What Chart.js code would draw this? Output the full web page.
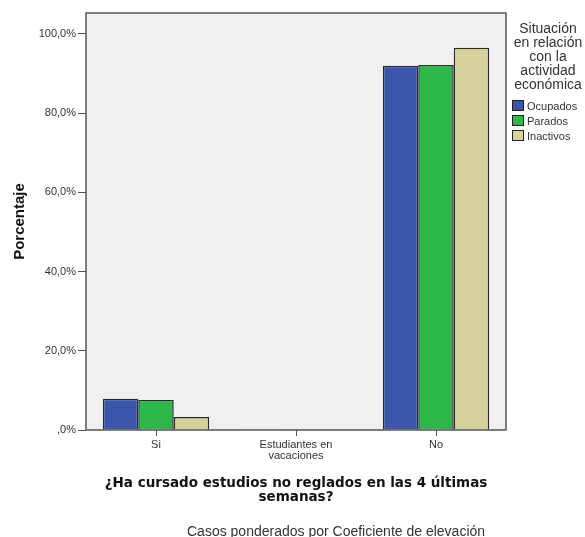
<!DOCTYPE html>
<html>
<head>
<meta charset="utf-8">
<script src="https://cdn.jsdelivr.net/npm/chart.js@4"></script>
<style>
  body { margin: 0; background: #fff; }
  #wrap { position: relative; width: 585px; height: 537px; overflow: hidden; }
  #legend { position: absolute; left: 508px; top: 21px; width: 80px; font-family: 'Liberation Sans', Arial, sans-serif; color: #333; }
  #legend .ltitle { text-align: center; font-size: 14px; line-height: 14px; }
  #legend .items { margin-top: 8px; }
  #legend .item { height: 15px; line-height: 15px; font-size: 11px; white-space: nowrap; }
  #legend .box { display: inline-block; width: 10px; height: 9px; border: 1px solid #222; margin-left: 4px; margin-right: 3px; vertical-align: -1px; }
  #footnote { position: absolute; left: 187px; top: 523px; font-family: 'Liberation Sans', Arial, sans-serif; font-size: 14px; line-height: 16px; color: #333; white-space: nowrap; }
</style>
</head>
<body>
<div id="wrap">
  <canvas id="chart" width="585" height="537"></canvas>
  <div id="legend">
    <div class="ltitle">Situación<br>en relación<br>con la<br>actividad<br>económica</div>
    <div class="items" id="legendItems"></div>
  </div>
  <div id="footnote">Casos ponderados por Coeficiente de elevación</div>
</div>
<script>
// data
const categories = ['Si', ['Estudiantes en', 'vacaciones'], 'No'];
const seriesNames = ['Ocupados', 'Parados', 'Inactivos'];
const ocupados = [7.9, 0.2, 92.0];
const parados = [7.6, 0.2, 92.2];
const inactivos = [3.3, 0.2, 96.5];
const seriesColors = ['#3a55aa', '#2fb84a', '#d6d09a'];
const yTicks = [0, 20, 40, 60, 80, 100];

const fontFamily = "'Liberation Sans', Arial, sans-serif";

// plot box background + frame
const plotBox = {
  id: 'plotBox',
  beforeDatasetsDraw(chart) {
    const { ctx, chartArea: a } = chart;
    ctx.save();
    ctx.fillStyle = '#f0f0f0';
    ctx.fillRect(a.left, a.top, a.right - a.left, a.bottom - a.top);
    ctx.restore();
  },
  afterDatasetsDraw(chart) {
    const { ctx, chartArea: a } = chart;
    ctx.save();
    ctx.strokeStyle = '#555';
    ctx.lineWidth = 1.5;
    ctx.strokeRect(a.left, a.top, a.right - a.left, a.bottom - a.top);
    ctx.restore();
  }
};

const values = [ocupados, parados, inactivos];

new Chart(document.getElementById('chart'), {
  type: 'bar',
  data: {
    labels: categories,
    datasets: seriesNames.map((name, i) => ({
      label: name,
      data: values[i],
      backgroundColor: seriesColors[i],
      borderColor: '#2a2a2a',
      borderWidth: 1.5,
      barPercentage: 1,
      categoryPercentage: 0.76
    }))
  },
  options: {
    responsive: false,
    animation: false,
    layout: { padding: { top: 13, right: 79, bottom: 0, left: 0 } },
    plugins: {
      legend: { display: false },
      tooltip: { enabled: false }
    },
    scales: {
      x: {
        grid: { display: true, drawOnChartArea: false, offset: false, tickLength: 6, color: '#555' },
        border: { display: false },
        ticks: { font: { family: fontFamily, size: 11, lineHeight: 1 }, color: '#333', padding: 3, maxRotation: 0 },
        title: {
          display: true,
          text: ['¿Ha cursado estudios no reglados en las 4 últimas', 'semanas?'],
          font: { family: "'DejaVu Sans', sans-serif", size: 13.5, weight: 'bold', lineHeight: 1 },
          color: '#111',
          padding: { top: 0, bottom: 33 }
        },
        afterFit(scale) { scale.height = 107; }
      },
      y: {
        min: 0,
        max: 105.3,
        afterBuildTicks(scale) { scale.ticks = yTicks.map(v => ({ value: v })); },
        grid: { display: true, drawOnChartArea: false, tickLength: 8, color: '#555' },
        border: { display: false },
        ticks: {
          font: { family: fontFamily, size: 11 },
          color: '#333',
          padding: 2,
          callback: v => v === 0 ? ',0%' : v.toFixed(1).replace('.', ',') + '%'
        },
        title: {
          display: true,
          text: 'Porcentaje',
          font: { family: fontFamily, size: 15, weight: 'bold', lineHeight: 1 },
          color: '#111',
          padding: { top: 12, bottom: 0 }
        },
        afterFit(scale) { scale.width = 86; }
      }
    }
  },
  plugins: [plotBox]
});

// legend
const legendItems = document.getElementById('legendItems');
seriesNames.forEach((name, i) => {
  const row = document.createElement('div');
  row.className = 'item';
  row.innerHTML = '<span class="box" style="background:' + seriesColors[i] + '"></span>' + name;
  legendItems.appendChild(row);
});
</script>
</body>
</html>
